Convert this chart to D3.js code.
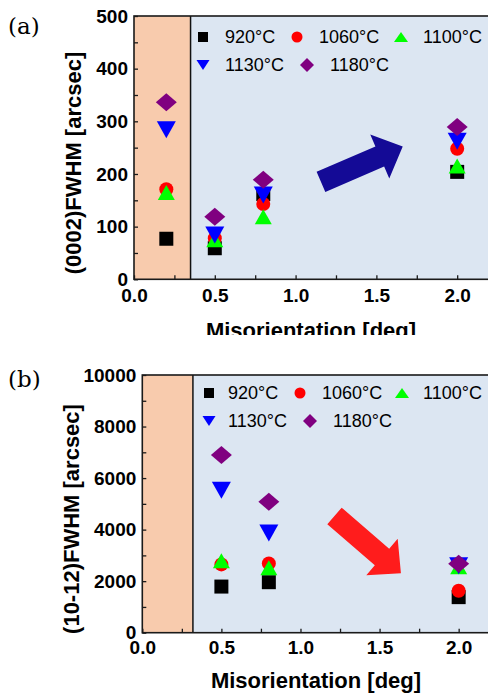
<!DOCTYPE html>
<html>
<head>
<meta charset="utf-8">
<script src="https://cdn.jsdelivr.net/npm/d3@7"></script>
<style>
    body { margin: 0; background: #fff; }
    svg { display: block; }
</style>
</head>
<body>
<div id="chart"></div>
<script>
// Series labels, marker shapes and colours (same for both panels)
const temps = ["920°C", "1060°C", "1100°C", "1130°C", "1180°C"];
const shapes = ["square", "circle", "triangle", "triangleDown", "diamond"];
const colors = ["#000000", "#ff0000", "#00ff00", "#0000ff", "#800080"];

// (a) (0002) FWHM [arcsec]
const misA = [0.2, 0.5, 0.8, 2.0];
const fwhmA920  = [77, 59, 162, 204];
const fwhmA1060 = [171, 78, 143, 248];
const fwhmA1100 = [165, 75, 119, 215];
const fwhmA1130 = [284, 84, 160, 262];
const fwhmA1180 = [336, 119, 189, 289];
const yTicksA = [0, 100, 200, 300, 400, 500];
const dividerA = 0.35;
const arrowA = [[1.157, 185], [1.663, 252]];

// (b) (10-12) FWHM [arcsec]
const misB = [0.5, 0.8, 2.0];
const fwhmB920  = [1790, 1960, 1380];
const fwhmB1060 = [2650, 2690, 1630];
const fwhmB1100 = [2790, 2520, 2560];
const fwhmB1130 = [5530, 3870, 2600];
const fwhmB1180 = [6900, 5080, 2680];
const yTicksB = [0, 2000, 4000, 6000, 8000, 10000];
const dividerB = 0.32;
const arrowB = [[1.215, 4530], [1.635, 2305]];

const xTicks = [0.0, 0.5, 1.0, 1.5, 2.0];

const svg = d3.select("#chart").append("svg")
    .attr("width", 488)
    .attr("height", 694);

// marker path centred on its bounding box
function markerPath(shape, w, h) {
    h = h || w;
    const a = w / 2, b = h / 2;
    switch (shape) {
        case "square": return `M${-a},${-b}H${a}V${b}H${-a}Z`;
        case "circle": return `M${-a},0A${a},${b} 0 1,0 ${a},0A${a},${b} 0 1,0 ${-a},0Z`;
        case "triangle": return `M0,${-b}L${a},${b}L${-a},${b}Z`;
        case "triangleDown": return `M${-a},${-b}L${a},${-b}L0,${b}Z`;
        case "diamond": return `M0,${-b}L${a},0L0,${b}L${-a},0Z`;
    }
}

// marker sizes [w, h]
const bigSize = {
    square: [14, 14], circle: [14, 14], triangle: [17, 15],
    triangleDown: [19, 17], diamond: [21, 18]
};
const smallSize = {
    square: [10, 10], circle: [11, 11], triangle: [14, 10],
    triangleDown: [13, 10], diamond: [14, 14]
};

class Panel {

    constructor(opts) {
        this.g = svg.append("g");
        if (opts.clip) this.g.attr("clip-path", `url(#${opts.clip})`);
        this.opts = opts;
        this.x = d3.scaleLinear().domain([0, 2.2]).range([opts.left, opts.right]);
        this.y = d3.scaleLinear().domain([0, opts.yMax]).range([opts.bottom, opts.top]);
        this.draw();
    }

    draw() {
        const o = this.opts, x = this.x, y = this.y, g = this.g;

        // background regions
        g.append("rect")
            .attr("x", x(0)).attr("y", y(o.yMax))
            .attr("width", x(o.divider) - x(0))
            .attr("height", y(0) - y(o.yMax))
            .attr("fill", "#f8cbad");
        g.append("rect")
            .attr("x", x(o.divider)).attr("y", y(o.yMax))
            .attr("width", x(2.2) - x(o.divider))
            .attr("height", y(0) - y(o.yMax))
            .attr("fill", "#dce6f2");
        g.append("line")
            .attr("x1", x(o.divider)).attr("x2", x(o.divider))
            .attr("y1", y(0)).attr("y2", y(o.yMax))
            .attr("stroke", "#111").attr("stroke-width", 1.5);

        // frame
        g.append("rect")
            .attr("x", x(0)).attr("y", y(o.yMax))
            .attr("width", x(2.2) - x(0))
            .attr("height", y(0) - y(o.yMax))
            .attr("fill", "none")
            .attr("stroke", "#1a1a1a").attr("stroke-width", 1.6);

        // axes, ticks pointing inward
        const xAxis = d3.axisBottom(x)
            .tickValues(d3.range(0, 2.01, 0.25))
            .tickSizeInner(-4).tickSizeOuter(0)
            .tickPadding(o.xPad)
            .tickFormat(d => xTicks.some(t => Math.abs(t - d) < 1e-6) ? d3.format(".1f")(d) : "");
        const xg = g.append("g")
            .attr("transform", `translate(0,${y(0)})`)
            .call(xAxis);

        const step = o.yTicks[1] / 2;
        const yAxis = d3.axisLeft(y)
            .tickValues(d3.range(0, o.yMax + 1, step))
            .tickSizeInner(-4).tickSizeOuter(0)
            .tickPadding(6)
            .tickFormat(d => o.yTicks.includes(d) ? d : "");
        const yg = g.append("g")
            .attr("transform", `translate(${x(0)},0)`)
            .call(yAxis);

        [xg, yg].forEach(a => {
            a.select(".domain").remove();
            a.selectAll(".tick line").attr("stroke", "#1a1a1a").attr("stroke-width", 1.3);
            a.selectAll(".tick text")
                .attr("fill", "#000")
                .style("font-family", "Liberation Sans, Arial, sans-serif")
                .style("font-weight", "bold")
                .style("font-size", "19px");
        });

        // axis titles
        g.append("text")
            .attr("x", o.xTitle[0]).attr("y", o.xTitle[1])
            .attr("text-anchor", "middle")
            .style("font-family", "Liberation Sans, Arial, sans-serif")
            .style("font-weight", "bold").style("font-size", "22px")
            .text("Misorientation [deg]");
        g.append("text")
            .attr("transform", `translate(${o.yTitle[0]},${o.yTitle[1]}) rotate(-90)`)
            .attr("text-anchor", "middle")
            .attr("dominant-baseline", "central")
            .style("font-family", "Liberation Sans, Arial, sans-serif")
            .style("font-weight", "bold").style("font-size", "22px")
            .text(o.yLabel);

        // panel label
        svg.append("text")
            .attr("x", 8).attr("y", o.tag[1])
            .style("font-family", "DejaVu Serif, Liberation Serif, serif")
            .style("font-size", "23px")
            .text(o.tagText);

        // arrow
        this.addArrow(o.arrow, o.arrowColor);

        // markers
        o.series.forEach((vals, i) => {
            const sz = bigSize[shapes[i]];
            g.append("g").selectAll("path")
                .data(vals.map((v, j) => [o.xs[j], v]))
                .enter().append("path")
                .attr("transform", d => `translate(${x(d[0])},${y(d[1])})`)
                .attr("d", markerPath(shapes[i], sz[0], sz[1]))
                .attr("fill", colors[i]);
        });

        // legend
        const leg = g.append("g");
        o.legend.forEach((pos, i) => {
            const sz = smallSize[shapes[i]];
            leg.append("path")
                .attr("transform", `translate(${pos[0]},${pos[1]})`)
                .attr("d", markerPath(shapes[i], sz[0], sz[1]))
                .attr("fill", colors[i]);
            leg.append("text")
                .attr("x", pos[2]).attr("y", pos[1])
                .attr("dominant-baseline", "central")
                .style("font-family", "Liberation Sans, Arial, sans-serif")
                .style("font-size", "18px")
                .text(temps[i]);
        });
    }

    addArrow(arrow, color) {
        const x = this.x, y = this.y;
        const p0 = [x(arrow[0][0]), y(arrow[0][1])];
        const p1 = [x(arrow[1][0]), y(arrow[1][1])];
        const len = Math.hypot(p1[0] - p0[0], p1[1] - p0[1]);
        const u = [(p1[0] - p0[0]) / len, (p1[1] - p0[1]) / len];
        const n = [-u[1], u[0]];
        const shaft = 22, head = 48, headLen = 25;
        const hb = [p1[0] - u[0] * headLen, p1[1] - u[1] * headLen];
        const pt = (p, k) => [p[0] + n[0] * k, p[1] + n[1] * k];
        const pts = [
            pt(p0, shaft / 2), pt(hb, shaft / 2), pt(hb, head / 2), p1,
            pt(hb, -head / 2), pt(hb, -shaft / 2), pt(p0, -shaft / 2)
        ];
        this.g.append("polygon")
            .attr("points", pts.map(p => p.join(",")).join(" "))
            .attr("fill", color);
    }
}

// clip for panel (a): its x title is cut off in the original
svg.append("clipPath").attr("id", "clipA")
    .append("rect").attr("x", 0).attr("y", 0).attr("width", 488).attr("height", 335);

new Panel({
    top: 16, bottom: 279.3, left: 134, right: 489.5,
    yMax: 500, yTicks: yTicksA, divider: dividerA,
    xs: misA,
    series: [fwhmA920, fwhmA1060, fwhmA1100, fwhmA1130, fwhmA1180],
    arrow: arrowA, arrowColor: "#140a96",
    xPad: 9, clip: "clipA",
    xTitle: [311, 338], yTitle: [73, 163],
    yLabel: "(0002)FWHM [arcsec]",
    tag: [8, 34], tagText: "(a)",
    legend: [[203, 37, 225], [297, 37, 319], [401, 37, 423], [203, 65, 225], [307, 65, 330]]
});

new Panel({
    top: 375, bottom: 632.7, left: 142.3, right: 490.3,
    yMax: 10000, yTicks: yTicksB, divider: dividerB,
    xs: misB,
    series: [fwhmB920, fwhmB1060, fwhmB1100, fwhmB1130, fwhmB1180],
    arrow: arrowB, arrowColor: "#ff1c1c",
    xPad: 8,
    xTitle: [316, 688], yTitle: [71, 519],
    yLabel: "(10-12)FWHM [arcsec]",
    tag: [8, 387], tagText: "(b)",
    legend: [[209, 393, 228], [300, 393, 322], [402, 393, 423], [209, 421, 228], [310, 421, 333]]
});
</script>
</body>
</html>
